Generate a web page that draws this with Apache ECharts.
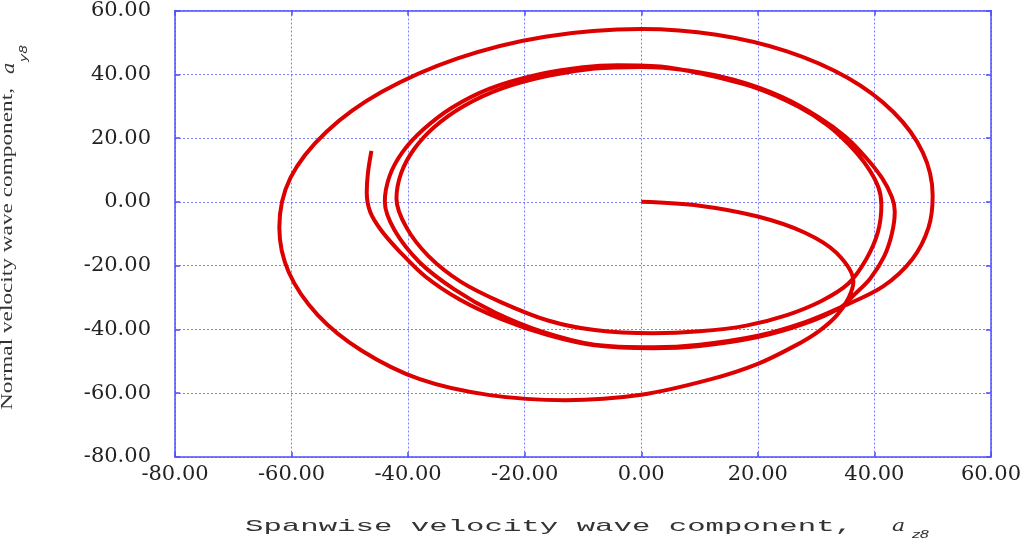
<!DOCTYPE html>
<html>
<head>
<meta charset="utf-8">
<script src="https://cdn.jsdelivr.net/npm/echarts@6/dist/echarts.min.js"></script>
<style>
html,body{margin:0;padding:0;background:#fff;}
#chart{width:1024px;height:539px;}
</style>
</head>
<body>
<div id="chart"></div>
<script>
// ---- data ----
const xTicks = [-80, -60, -40, -20, 0, 20, 40, 60];
const yTicks = [-80, -60, -40, -20, 0, 20, 40, 60];

// trajectory a_z8 (x) vs a_y8 (y), split into its successive turns
const startArc = [[0,0],[10,-1.2],[20,-4.6],[28,-9.6],[33.5,-16],[36.4,-25],[35.6,-30],[33.6,-35.5],[30.5,-40.5],[26.5,-45],[20,-50.8],[12,-55.6],[0,-60.5]];
const outerLoop = [[-13,-62.2],[-26,-60.6],[-38,-55.6],[-48,-46.6],[-55.5,-35.5],[-60.5,-22],[-62.1,-8],[-60.2,7.5],[-54,22],[-44.5,34.5],[-31.5,45],[-16.5,51.8],[0,54.2],[12.9,52.4],[25,47.2],[35.4,38.9],[43.3,28.1],[48.3,15.5],[50,2],[49.3,-8],[46.5,-18],[41.5,-26.5],[34.2,-33.1]];
const loop1 = [[28,-37.8],[20,-42],[10,-44.8],[2,-45.6],[-8,-44.8],[-17,-40.7],[-25,-34.8],[-32,-27.5],[-38,-19],[-42.3,-9],[-44,0],[-43.2,8],[-41,15.5],[-37.5,22.5],[-32.5,29.5],[-26,35.5],[-18,39.8],[-10,42.2],[-4,42.8],[4,42.3],[12,39.5],[20,35.5],[27,29.8],[32,24],[35.6,18],[38.8,11],[40.7,4.5],[41.2,-1],[40.6,-9.5],[38.6,-18],[35.5,-25.7],[31,-31],[25,-35.5],[18,-38.8],[10,-40.6]];
const loop2 = [[2,-41.2],[-8,-40.2],[-16,-37.2],[-24,-31.5],[-31,-25],[-36.5,-17],[-40.3,-8],[-42,1],[-41.2,9],[-39,16.5],[-35.5,23.5],[-30.5,30],[-24,35.5],[-16,39.5],[-8,41.8],[0,42.3],[8,41.2],[16,38.2],[24,33],[30.5,26.5],[35,20.5],[38.5,14],[41.3,7.5],[43,1.5],[43.5,-3],[43,-10],[41.7,-17],[39.3,-24],[36.6,-29],[34.2,-33.1]];
const loop3 = [[28,-38.2],[20,-42.4],[10,-45.2],[2,-45.9],[-8,-45],[-16,-41.8],[-24,-36.8],[-31,-30.8],[-37,-23.5],[-41.5,-15.5],[-44.6,-9],[-46.5,-3.2],[-47.1,3],[-46.9,9],[-46.3,16]];

const xTitle = 'Spanwise velocity wave component,';
const yTitle = 'Normal velocity wave component,';
const titleVar = 'a';
const xSub = 'z8';
const ySub = 'y8';

// ---- build ----
const trajectory = [].concat(startArc, outerLoop, loop1, loop2, loop3);

const ctx = document.createElement('canvas').getContext('2d');
function measure(text, font){ ctx.font = font; return ctx.measureText(text).width; }
const xFont = '17px "Liberation Mono"';
const yFont = '16px "Liberation Serif"';
const xScale = 608 / measure(xTitle, xFont);
const yScale = 322 / measure(yTitle, yFont);

const blue = '#4f4fff';
const gridBlue = '#7c7cff';
const labelFont = {fontFamily:'DejaVu Serif', fontSize:21, color:'#222'};
const fmt = v => v.toFixed(2);

const chart = echarts.init(document.getElementById('chart'), null, {renderer:'canvas'});
chart.setOption({
  animation:false,
  backgroundColor:'#fff',
  grid:{left:175, right:33, top:8, bottom:82, containLabel:false},
  xAxis:[{
    type:'value', min:xTicks[0], max:xTicks[xTicks.length-1], interval:xTicks[1]-xTicks[0],
    position:'bottom',
    axisLine:{show:true, onZero:false, lineStyle:{color:blue, width:1.5}},
    axisTick:{show:true, inside:true, length:5, lineStyle:{color:blue, width:1.5}},
    axisLabel:Object.assign({margin:7, formatter:fmt}, labelFont),
    splitLine:{show:true, lineStyle:{color:gridBlue, width:1, type:[2,2]}}
  },{
    type:'value', min:xTicks[0], max:xTicks[xTicks.length-1], interval:xTicks[1]-xTicks[0],
    position:'top',
    axisLine:{show:true, onZero:false, lineStyle:{color:blue, width:1.5}},
    axisTick:{show:true, inside:true, length:5, lineStyle:{color:blue, width:1.5}},
    axisLabel:{show:false}, splitLine:{show:false}
  }],
  yAxis:[{
    type:'value', min:yTicks[0], max:yTicks[yTicks.length-1], interval:yTicks[1]-yTicks[0],
    position:'left',
    axisLine:{show:true, onZero:false, lineStyle:{color:blue, width:1.5}},
    axisTick:{show:true, inside:true, length:5, lineStyle:{color:blue, width:1.5}},
    axisLabel:Object.assign({margin:24, formatter:fmt}, labelFont),
    splitLine:{show:true, lineStyle:{color:gridBlue, width:1, type:[2,2]}}
  },{
    type:'value', min:yTicks[0], max:yTicks[yTicks.length-1], interval:yTicks[1]-yTicks[0],
    position:'right',
    axisLine:{show:true, onZero:false, lineStyle:{color:blue, width:1.5}},
    axisTick:{show:true, inside:true, length:5, lineStyle:{color:blue, width:1.5}},
    axisLabel:{show:false}, splitLine:{show:false}
  }],
  series:[{
    type:'line', xAxisIndex:0, yAxisIndex:0,
    data:trajectory, smooth:0.33, showSymbol:false, symbol:'none',
    lineStyle:{color:'#dd0000', width:4}, z:5
  }],
  graphic:[
    {type:'text', x:245, y:526, scaleX:xScale, silent:true,
     style:{text:xTitle, font:xFont, fill:'#333', align:'left', verticalAlign:'middle', textAlign:'left', textVerticalAlign:'middle'}},
    {type:'text', x:892, y:527, scaleX:1.3, silent:true,
     style:{text:titleVar, font:'italic 17px "DejaVu Serif"', fill:'#333', align:'left', verticalAlign:'middle', textAlign:'left', textVerticalAlign:'middle'}},
    {type:'text', x:912, y:535, scaleX:1.5, silent:true,
     style:{text:xSub, font:'italic 10px "DejaVu Sans"', fill:'#333', align:'left', verticalAlign:'middle', textAlign:'left', textVerticalAlign:'middle'}},
    {type:'text', x:8, y:410, rotation:Math.PI/2, scaleX:yScale, silent:true,
     style:{text:yTitle, font:yFont, fill:'#333', align:'left', verticalAlign:'middle', textAlign:'left', textVerticalAlign:'middle'}},
    {type:'text', x:10, y:74, rotation:Math.PI/2, scaleX:1.2, silent:true,
     style:{text:titleVar, font:'italic 16px "DejaVu Serif"', fill:'#333', align:'left', verticalAlign:'middle', textAlign:'left', textVerticalAlign:'middle'}},
    {type:'text', x:24, y:62, rotation:Math.PI/2, scaleX:1.4, silent:true,
     style:{text:ySub, font:'italic 10px "DejaVu Sans"', fill:'#333', align:'left', verticalAlign:'middle', textAlign:'left', textVerticalAlign:'middle'}}
  ]
});
</script>
</body>
</html>
